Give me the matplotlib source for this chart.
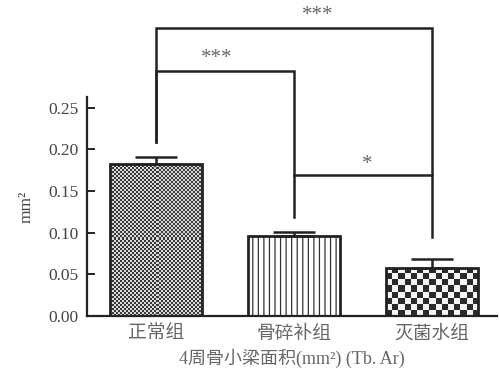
import numpy as np
import matplotlib
matplotlib.use("Agg")
import matplotlib.pyplot as plt

categories = ["正常组", "骨碎补组", "灭菌水组"]
means = [0.183, 0.096, 0.058]
errors = [0.008, 0.005, 0.010]
yticks = [0.00, 0.05, 0.10, 0.15, 0.20, 0.25]
xlabel = "4周骨小梁面积(mm²) (Tb. Ar)"
ylabel = "mm²"
# significance brackets: (left bar, right bar, height, left foot, right foot, label, label x, label y)
brackets = [
    (0, 2, 0.346, 0.209, 0.095, "***", 1.17, 0.350),
    (0, 1, 0.294, 0.209, 0.119, "***", 0.44, 0.298),
    (1, 2, 0.169, 0.169, 0.169, "*", 1.53, 0.171),
]

SERIF = ["Liberation Serif", "DejaVu Serif"]
CJK = ["Noto Sans CJK SC", "DejaVu Sans"]
INK = "#222222"
GRAY = "#666666"

plt.rcParams["hatch.linewidth"] = 0.9
plt.rcParams["hatch.color"] = "#333333"

fig = plt.figure(figsize=(4.99, 3.76), dpi=100)
ax = fig.add_axes([0.1743, 0.1596, 0.8217, 0.5824])
x = np.arange(len(categories))
width = 0.67
ax.set_xlim(-0.5, 2.47)
ax.set_ylim(0, 0.263)

bars = ax.bar(x, means, width=width, facecolor="white", edgecolor="none",
              linewidth=0, zorder=2)
bars[1].set_hatch("|||")
bars[1].set_edgecolor("#333333")
bars[1].set_linewidth(0)

# checker textures clipped to bars 0 and 2
def checker(bar, cell_px, dark, light):
    x0, y0 = bar.get_x(), bar.get_y()
    w, h = bar.get_width(), bar.get_height()
    p0 = ax.transData.transform((x0, y0))
    p1 = ax.transData.transform((x0 + w, y0 + h))
    nx = max(1, int(round(abs(p1[0] - p0[0]) / cell_px)))
    ny = max(1, int(round(abs(p1[1] - p0[1]) / cell_px)))
    arr = (np.add.outer(np.arange(ny), np.arange(nx)) % 2).astype(float)
    cmap = matplotlib.colors.ListedColormap([dark, light])
    im = ax.imshow(arr, cmap=cmap, extent=(x0, x0 + w, y0, y0 + h),
                   interpolation="nearest", aspect="auto", zorder=2.2,
                   origin="lower")
    im.set_clip_path(bar)

checker(bars[0], 2.0, "#3a3a3a", "#d8d8d8")
checker(bars[2], 6.0, "#2a2a2a", "#f4f4f4")
ax.set_xlim(-0.5, 2.47)
ax.set_ylim(0, 0.263)

# outlines on top
ax.bar(x, means, width=width, fill=False, edgecolor=INK, linewidth=2.0,
       zorder=2.5)

ax.errorbar(x, means, yerr=[np.zeros(len(errors)), errors], fmt="none",
            ecolor=INK, elinewidth=1.8, capsize=15, capthick=1.8, zorder=3)

for l, r, hgt, fl, fr, lab, lx, ly in brackets:
    ax.plot([l, l, r, r], [fl, hgt, hgt, fr], color=INK, lw=1.8,
            clip_on=False, zorder=4, solid_joinstyle="miter")
    ax.text(lx, ly, lab, ha="center", va="bottom", fontsize=15,
            color=GRAY, family=SERIF, clip_on=False)

for s in ["top", "right"]:
    ax.spines[s].set_visible(False)
for s in ["left", "bottom"]:
    ax.spines[s].set_linewidth(1.6)
    ax.spines[s].set_color(INK)

ax.set_yticks(yticks)
ax.set_yticklabels([f"{v:.2f}" for v in yticks], family=SERIF, fontsize=12.5,
                   color="#444444")
ax.tick_params(axis="y", direction="in", length=6, width=1.4, color=INK, pad=6)
ax.set_xticks(x)
ax.set_xticklabels(categories, family=CJK, fontsize=13.5, color=GRAY)
ax.tick_params(axis="x", length=0, pad=5)

ax.set_ylabel(ylabel, family=SERIF, fontsize=12.5, color="#444444", labelpad=10)
ax.set_xlabel(xlabel, family=["Liberation Serif", "Noto Sans CJK SC"],
              fontsize=13, color=GRAY, labelpad=3)

fig.savefig("out.png", dpi=100)
